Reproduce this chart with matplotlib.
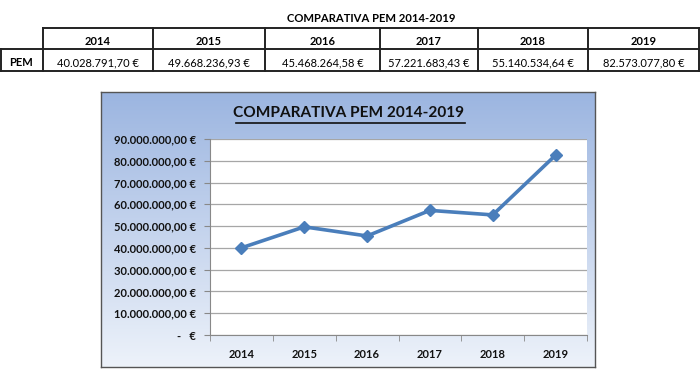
import matplotlib
matplotlib.use("Agg")
import matplotlib.pyplot as plt
import numpy as np
from matplotlib.lines import Line2D

years = ["2014", "2015", "2016", "2017", "2018", "2019"]
pem = [40028791.70, 49668236.93, 45468264.58, 57221683.43, 55140534.64, 82573077.80]
title = "COMPARATIVA PEM 2014-2019"
row_label = "PEM"
yticks = [0, 10e6, 20e6, 30e6, 40e6, 50e6, 60e6, 70e6, 80e6, 90e6]

FONT = "Lato"
W, H = 700, 376

def eur(v):
    s = f"{v:,.2f}"
    s = s.replace(",", "X").replace(".", ",").replace("X", ".")
    return s + " €"

def eur_tick(v, pos=None):
    if v == 0:
        return "-   €"
    return eur(v)

fig = plt.figure(figsize=(7, 3.76), dpi=100)
fig.patch.set_facecolor("white")

# ---- table (pixel coordinates overlay) ----
tab = fig.add_axes([0, 0, 1, 1])
tab.set_xlim(0, W)
tab.set_ylim(H, 0)
tab.axis("off")

tab.text(371, 19, title, ha="center", va="center", fontsize=8.1,
         fontweight="bold", family=FONT)
cols = [43, 153, 265, 380, 478, 588, 699]
y0, y1, y2 = 28, 49, 71
lw = 1.4
lc = "#222222"
tab.add_line(Line2D([cols[0], cols[-1]], [y0, y0], color=lc, lw=lw))
tab.add_line(Line2D([0, cols[-1]], [y1, y1], color=lc, lw=lw))
tab.add_line(Line2D([0, cols[-1]], [y2, y2], color=lc, lw=lw))
tab.add_line(Line2D([0.8, 0.8], [y1, y2], color=lc, lw=lw))
for c in cols:
    tab.add_line(Line2D([c, c], [y0, y2], color=lc, lw=lw))
tab.text(21, 62.5, row_label, ha="center", va="center",
         fontsize=8, fontweight="bold", family=FONT)
for i, (yr, v) in enumerate(zip(years, pem)):
    cx = (cols[i] + cols[i + 1]) / 2
    tab.text(cx, 41.5, yr, ha="center", va="center",
             fontsize=8, fontweight="bold", family=FONT)
    tab.text(cx, 62.5, eur(v), ha="center", va="center",
             fontsize=8, family=FONT)

# ---- chart box with gradient ----
bx0, by0, bx1, by1 = 101, 92, 595, 367
box = fig.add_axes([bx0 / W, 1 - by1 / H, (bx1 - bx0) / W, (by1 - by0) / H])
top = np.array([0.61, 0.71, 0.88])
bot = np.array([0.93, 0.95, 0.98])
t = np.linspace(0, 1, 256)[:, None]
grad = top[None, :] * (1 - t) + bot[None, :] * t
img = np.repeat(grad[:, None, :], 2, axis=1)
box.imshow(img, aspect="auto", extent=[0, 1, 0, 1], origin="upper")
box.set_xlim(0, 1)
box.set_ylim(0, 1)
box.set_xticks([])
box.set_yticks([])
for s in box.spines.values():
    s.set_color("#555555")
    s.set_linewidth(1.0)
box.text(0.5, 0.924, title, transform=box.transAxes, ha="center", va="center",
         fontsize=11.1, fontweight="bold", family=FONT, color="#111111")
box.add_line(Line2D([0.273, 0.737], [0.889, 0.889], transform=box.transAxes,
                    color="#111111", lw=1.2))

# ---- plot area ----
px0, py0, px1, py1 = 210, 139, 587, 335
ax = fig.add_axes([px0 / W, 1 - py1 / H, (px1 - px0) / W, (py1 - py0) / H])
ax.set_facecolor("white")
x = np.arange(len(years))
ax.plot(x, pem, color="#4a7ebb", lw=2.6, marker="D", markersize=6,
        markerfacecolor="#4a7ebb", markeredgecolor="#4a7ebb", zorder=3)
ax.set_xlim(-0.5, len(years) - 0.5)
ax.set_ylim(0, 90e6)
ax.set_yticks(yticks)
ax.yaxis.set_major_formatter(matplotlib.ticker.FuncFormatter(eur_tick))
ax.grid(axis="y", color="#a6a6a6", lw=0.9)
ax.set_axisbelow(True)
ax.set_xticks(x)
ax.set_xticklabels(years)
ax.set_xticks(np.arange(-0.5, len(years)), minor=True)
ax.tick_params(axis="x", which="major", length=0, pad=10)
ax.tick_params(axis="x", which="minor", length=4, color="#888888")
ax.tick_params(axis="y", length=4, color="#888888", pad=6)
for lab in ax.get_xticklabels() + ax.get_yticklabels():
    lab.set_fontweight("bold")
    lab.set_fontsize(8)
    lab.set_family(FONT)
    lab.set_color("#111111")
for side in ["top", "right"]:
    ax.spines[side].set_visible(False)
ax.spines["left"].set_color("#888888")
ax.spines["bottom"].set_color("#888888")

fig.savefig("out.png", dpi=100)
